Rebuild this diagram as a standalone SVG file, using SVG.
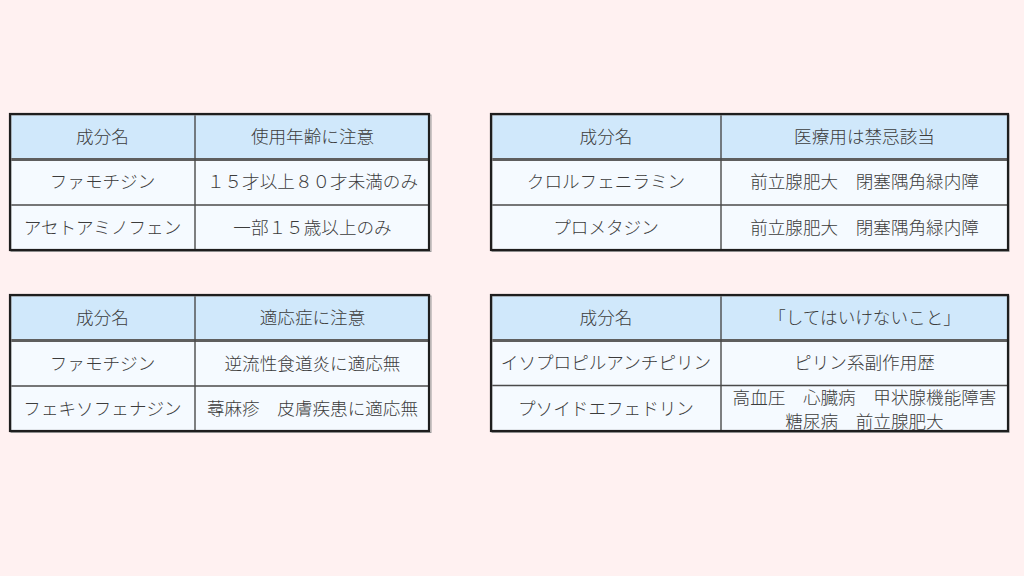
<svg xmlns="http://www.w3.org/2000/svg" width="1024" height="576" viewBox="0 0 1024 576">
<style>
.bg{fill:#fff1f1}
.hd{fill:#d0e8fb}
.bd{fill:#f5faff}
.frame{fill:none;stroke:#1e1e1e;stroke-width:2.2}
.shadow{fill:none;stroke:#9a9a9a;stroke-width:1}
.in{stroke:#4a4a4a;stroke-width:1.4}
.hl{stroke:#5e5e5e;stroke-width:3}
text{font-family:"Noto Sans CJK JP","Noto Sans",sans-serif;font-size:17.6px;font-weight:300;fill:#3c3c3c;text-anchor:middle;dominant-baseline:central}
</style>
<rect class="bg" x="0" y="0" width="1024" height="576"/>

<g id="table1">
<rect class="hd" x="10" y="114" width="420" height="45"/>
<rect class="bd" x="10" y="159" width="420" height="91"/>
<line class="hl" x1="10" y1="159.5" x2="430" y2="159.5"/>
<line class="in" x1="10" y1="205" x2="430" y2="205"/>
<line class="in" x1="195" y1="114" x2="195" y2="250"/>
<rect class="shadow" x="11" y="115" width="420" height="136.5"/>
<rect class="frame" x="10" y="114" width="419" height="136"/>
<text x="102.5" y="135">成分名</text>
<text x="312.5" y="135">使用年齢に注意</text>
<text x="102.5" y="180.5">ファモチジン</text>
<text x="312.5" y="180.5">１５才以上８０才未満のみ</text>
<text x="102.5" y="226">アセトアミノフェン</text>
<text x="312.5" y="226">一部１５歳以上のみ</text>
</g>

<g id="table2">
<rect class="hd" x="491" y="114" width="517" height="45"/>
<rect class="bd" x="491" y="159" width="517" height="91"/>
<line class="hl" x1="491" y1="159.5" x2="1008" y2="159.5"/>
<line class="in" x1="491" y1="205" x2="1008" y2="205"/>
<line class="in" x1="721" y1="114" x2="721" y2="250"/>
<rect class="shadow" x="492" y="115" width="517" height="136.5"/>
<rect class="frame" x="491" y="114" width="517" height="136"/>
<text x="606" y="135">成分名</text>
<text x="864.5" y="135">医療用は禁忌該当</text>
<text x="606" y="180.5">クロルフェニラミン</text>
<text x="864.5" y="180.5">前立腺肥大　閉塞隅角緑内障</text>
<text x="606" y="226">プロメタジン</text>
<text x="864.5" y="226">前立腺肥大　閉塞隅角緑内障</text>
</g>

<g id="table3">
<rect class="hd" x="10" y="295" width="420" height="45"/>
<rect class="bd" x="10" y="340" width="420" height="91"/>
<line class="hl" x1="10" y1="340.5" x2="430" y2="340.5"/>
<line class="in" x1="10" y1="386" x2="430" y2="386"/>
<line class="in" x1="195" y1="295" x2="195" y2="431"/>
<rect class="shadow" x="11" y="296" width="420" height="136.5"/>
<rect class="frame" x="10" y="295" width="419" height="136"/>
<text x="102.5" y="316.5">成分名</text>
<text x="312.5" y="316.5">適応症に注意</text>
<text x="102.5" y="362.5">ファモチジン</text>
<text x="312.5" y="362.5">逆流性食道炎に適応無</text>
<text x="102.5" y="407.5">フェキソフェナジン</text>
<text x="312.5" y="407.5">蕁麻疹　皮膚疾患に適応無</text>
</g>

<g id="table4">
<rect class="hd" x="491" y="295" width="517" height="45"/>
<rect class="bd" x="491" y="340" width="517" height="91"/>
<line class="hl" x1="491" y1="340.5" x2="1008" y2="340.5"/>
<line class="in" x1="491" y1="385.5" x2="1008" y2="385.5"/>
<line class="in" x1="721" y1="295" x2="721" y2="431"/>
<rect class="shadow" x="492" y="296" width="517" height="136.5"/>
<rect class="frame" x="491" y="295" width="517" height="136"/>
<text x="606" y="316.5">成分名</text>
<text x="864.5" y="316.5">「してはいけないこと」</text>
<text x="606" y="361.5">イソプロピルアンチピリン</text>
<text x="864.5" y="361.5">ピリン系副作用歴</text>
<text x="606" y="407.5">プソイドエフェドリン</text>
<text x="864.5" y="396.5">高血圧　心臓病　甲状腺機能障害</text>
<text x="864.5" y="420">糖尿病　前立腺肥大</text>
</g>

<g id="connectors"></g>
</svg>
